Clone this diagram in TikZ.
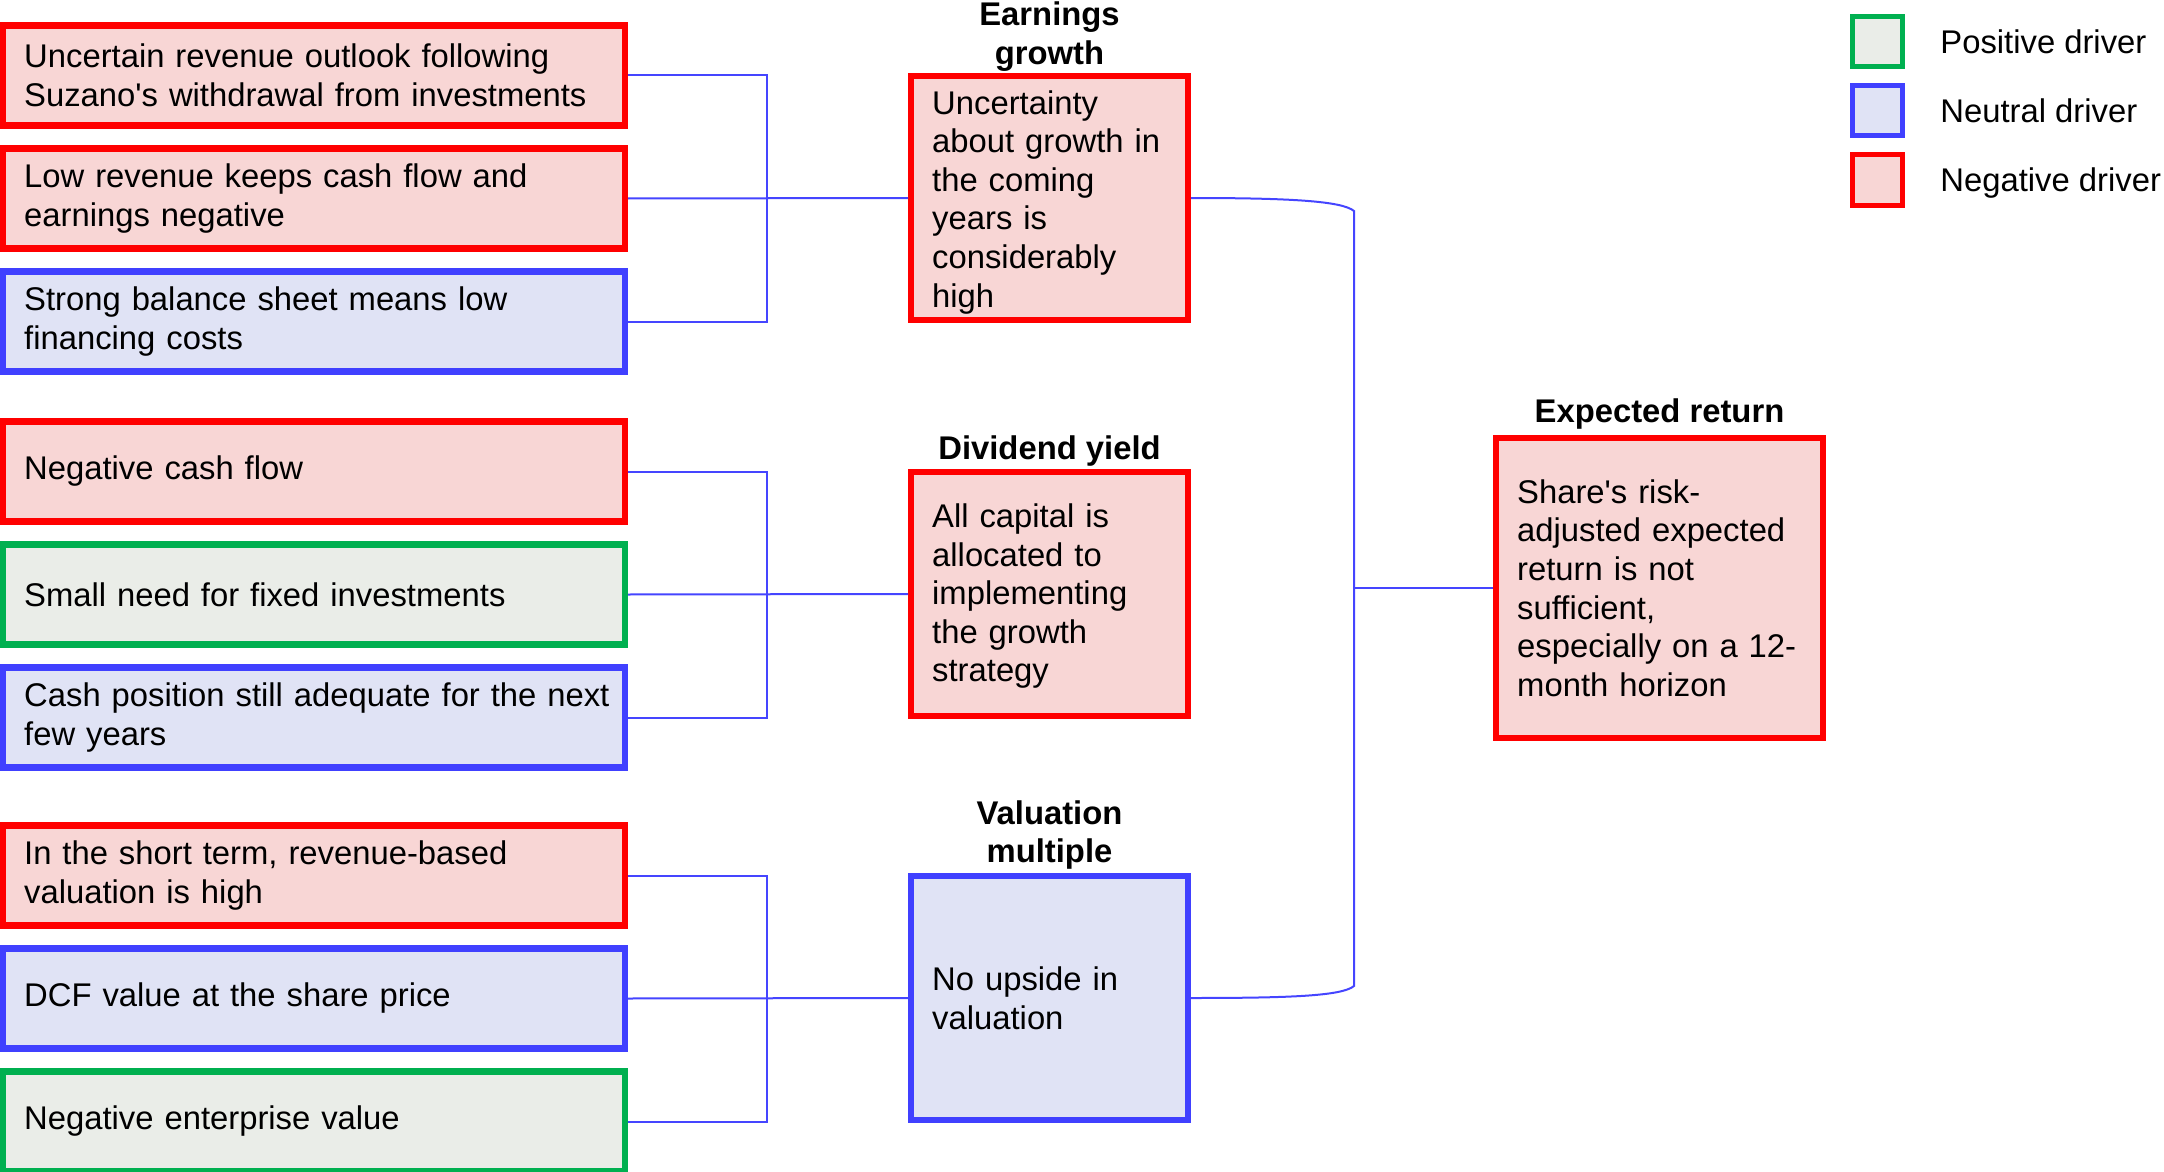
\documentclass[tikz,border=0pt]{standalone}
\usepackage{fontspec}
\setmainfont{Liberation Sans}
\newcommand\drvfont{\fontsize{16.4pt}{19.3pt}\selectfont}
\definecolor{negline}{HTML}{FF0000}
\definecolor{negfill}{HTML}{F8D6D5}
\definecolor{neuline}{HTML}{4040FF}
\definecolor{neufill}{HTML}{E0E3F5}
\definecolor{posline}{HTML}{00B050}
\definecolor{posfill}{HTML}{EAEDE8}
\definecolor{linkblue}{HTML}{4545FF}
\tikzset{
  drv/.style={draw, rectangle, line width=3.2pt, inner xsep=10.5pt, inner ysep=0pt,
    align=left, font=\drvfont, text=black},
  negbox/.style={drv, draw=negline, fill=negfill},
  neubox/.style={drv, draw=neuline, fill=neufill},
  posbox/.style={drv, draw=posline, fill=posfill},
  leftbox/.style={text width=289.8pt, minimum height=50pt},
  midbox/.style={text width=117.3pt, minimum height=121.8pt},
  erbox/.style={text width=142.3pt, minimum height=149.8pt},
  ttl/.style={font=\drvfont\bfseries, align=center, anchor=south, inner sep=0pt},
  link/.style={draw=linkblue, line width=1pt},
  keysq/.style={draw, rectangle, line width=2.5pt, minimum size=25pt, inner sep=0pt},
  keytxt/.style={font=\drvfont, anchor=base west, inner sep=0pt},
}
\begin{document}
\begin{tikzpicture}[x=0.5pt,y=-0.5pt]
\useasboundingbox (0,0) rectangle (2164,1172);

% left driver boxes
\node[negbox, leftbox] (L1) at (314,75.5) {Uncertain revenue outlook following\\Suzano\textquotesingle s withdrawal from investments};
\node[negbox, leftbox] (L2) at (314,198.5) {Low revenue keeps cash flow and\\earnings negative};
\node[neubox, leftbox] (L3) at (314,321.5) {Strong balance sheet means low\\financing costs};
\node[negbox, leftbox] (L4) at (314,471.5) {Negative cash flow};
\node[posbox, leftbox] (L5) at (314,594.5) {Small need for fixed investments};
\node[neubox, leftbox] (L6) at (314,717.5) {\mbox{Cash position still adequate for the next}\\few years};
\node[negbox, leftbox] (L7) at (314,875.5) {In the short term, revenue-based\\valuation is high};
\node[neubox, leftbox] (L8) at (314,998.5) {DCF value at the share price};
\node[posbox, leftbox] (L9) at (314,1121.5) {Negative enterprise value};

% middle boxes
\node[negbox, midbox] (EG) at (1049.5,198) {\rule{0pt}{16pt}Uncertainty\\about growth in\\the coming\\years is\\considerably\\high};
\node[negbox, midbox] (DY) at (1049.5,594) {\rule{0pt}{14pt}All capital is\\allocated to\\implementing\\the growth\\strategy};
\node[neubox, midbox] (VM) at (1049.5,998) {No upside in\\valuation};

% result box
\node[negbox, erbox] (ER) at (1659.5,588) {Share\textquotesingle s risk-\\adjusted expected\\return is not\\sufficient,\\especially on a 12-\\month horizon};

% titles
\node[ttl] (tEG) at ([yshift=0.6pt]EG.north) {Earnings\\growth};
\node[ttl] (tDY) at ([yshift=1.2pt]DY.north) {Dividend yield};
\node[ttl] (tVM) at ([yshift=1.5pt]VM.north) {Valuation\\multiple};
\node[ttl] (tER) at ([yshift=2.5pt]ER.north) {Expected return};

% bracket connectors
\coordinate (j1) at (767,198.5);
\coordinate (j2) at (767,594.5);
\coordinate (j3) at (767,998.5);
\draw[link] (L1.east) -| (j1) |- (L3.east);
\draw[link] (L2.east) -- (EG.west);
\draw[link] (L4.east) -| (j2) |- (L6.east);
\draw[link] (L5.east) -- (DY.west);
\draw[link] (L7.east) -| (j3) |- (L9.east);
\draw[link] (L8.east) -- (VM.west);

% right connector
\coordinate (r1) at (1354,211);
\coordinate (r2) at (1354,986);
\coordinate (rj) at (1354,588);
\draw[link] (EG.east) .. controls (1290,198) and (1342,201) .. (r1) -- (r2)
  .. controls (1342,996) and (1290,998) .. (VM.east);
\draw[link] (rj) -- (ER.west);

% legend
\node[keysq, draw=posline, fill=posfill] (k1) at (1877,42) {};
\node[keysq, draw=neuline, fill=neufill] (k2) at (1877,111) {};
\node[keysq, draw=negline, fill=negfill] (k3) at (1877,180) {};
\node[keytxt] (t1) at (1940,53.5) {Positive driver};
\node[keytxt] (t2) at (1940,122.5) {Neutral driver};
\node[keytxt] (t3) at (1940,191.5) {Negative driver};
\end{tikzpicture}
\end{document}
